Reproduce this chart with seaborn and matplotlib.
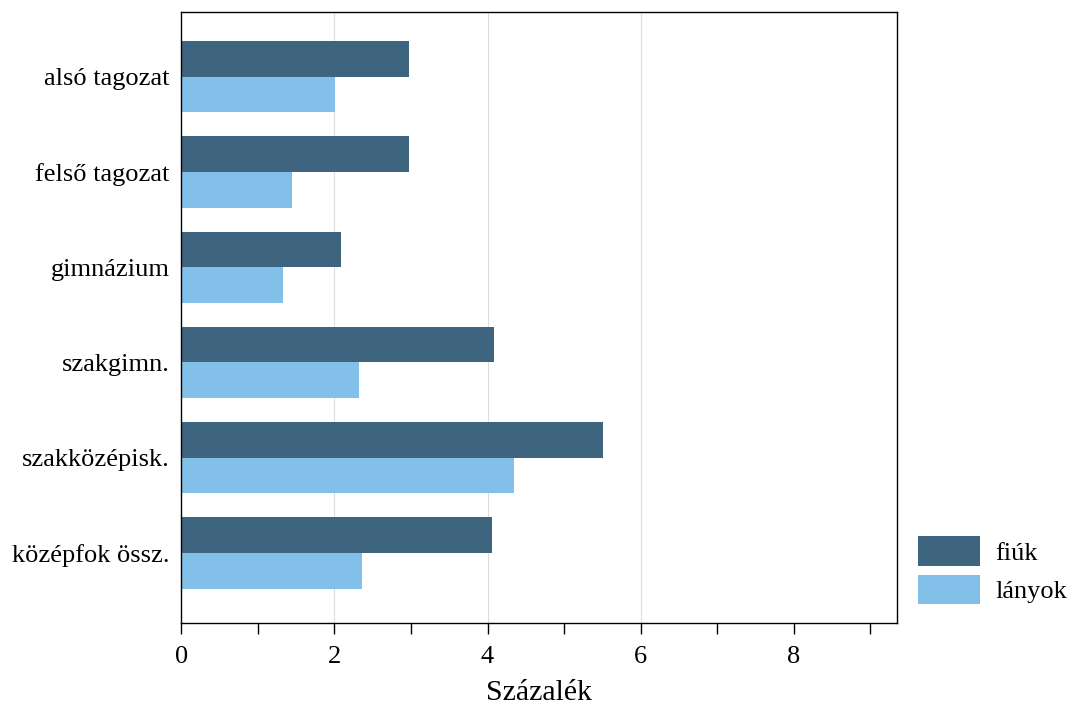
import pandas as pd
import matplotlib.pyplot as plt
import seaborn as sns

# data
categories = ['alsó tagozat', 'felső tagozat', 'gimnázium', 'szakgimn.',
              'szakközépisk.', 'középfok össz.']
fiuk = [2.98, 2.98, 2.09, 4.09, 5.51, 4.06]
lanyok = [2.01, 1.44, 1.33, 2.32, 4.35, 2.36]
groups = ['fiúk', 'lányok']
colors = ['#3F6480', '#82C0EA']

df = pd.DataFrame({
    'kat': categories * 2,
    'ertek': fiuk + lanyok,
    'nem': [groups[0]] * len(categories) + [groups[1]] * len(categories),
})

sns.set_style('white')
plt.rcParams['font.family'] = ['Liberation Serif', 'DejaVu Serif']
plt.rcParams['text.color'] = 'black'
plt.rcParams['xtick.color'] = 'black'
plt.rcParams['ytick.color'] = 'black'
plt.rcParams['axes.labelcolor'] = 'black'

fig, ax = plt.subplots(figsize=(10.73, 7.07), dpi=100)
fig.subplots_adjust(left=0.169, right=0.836, top=0.983, bottom=0.119)

sns.barplot(data=df, y='kat', x='ertek', hue='nem', palette=colors,
            orient='h', width=0.75, saturation=1, linewidth=0, ax=ax, zorder=2)

for x in [2, 4, 6]:
    ax.axvline(x, color='#dddddd', lw=0.8, zorder=0)

ax.set_xlim(0, 9.35)
ax.set_ylim(5.735, -0.68)
ax.set_xticks(range(0, 10, 2))
ax.set_xticks(range(1, 10, 2), minor=True)
ax.tick_params(axis='x', which='both', direction='out', length=8, width=1,
               color='black', bottom=True, labelsize=19, pad=9)
ax.tick_params(axis='y', left=False, labelsize=19, pad=5)
ax.set_xlabel('Százalék', fontsize=21.5, labelpad=8)
ax.set_ylabel('')
for s in ax.spines.values():
    s.set_color('black')
    s.set_linewidth(1)

ax.legend(title=None, frameon=False, loc='lower left',
          bbox_to_anchor=(1.003, 0.0), fontsize=19,
          handlelength=2.35, handleheight=1.35, handletextpad=0.6,
          labelspacing=0.35, borderaxespad=0.3)

plt.savefig('out.png', dpi=100)
